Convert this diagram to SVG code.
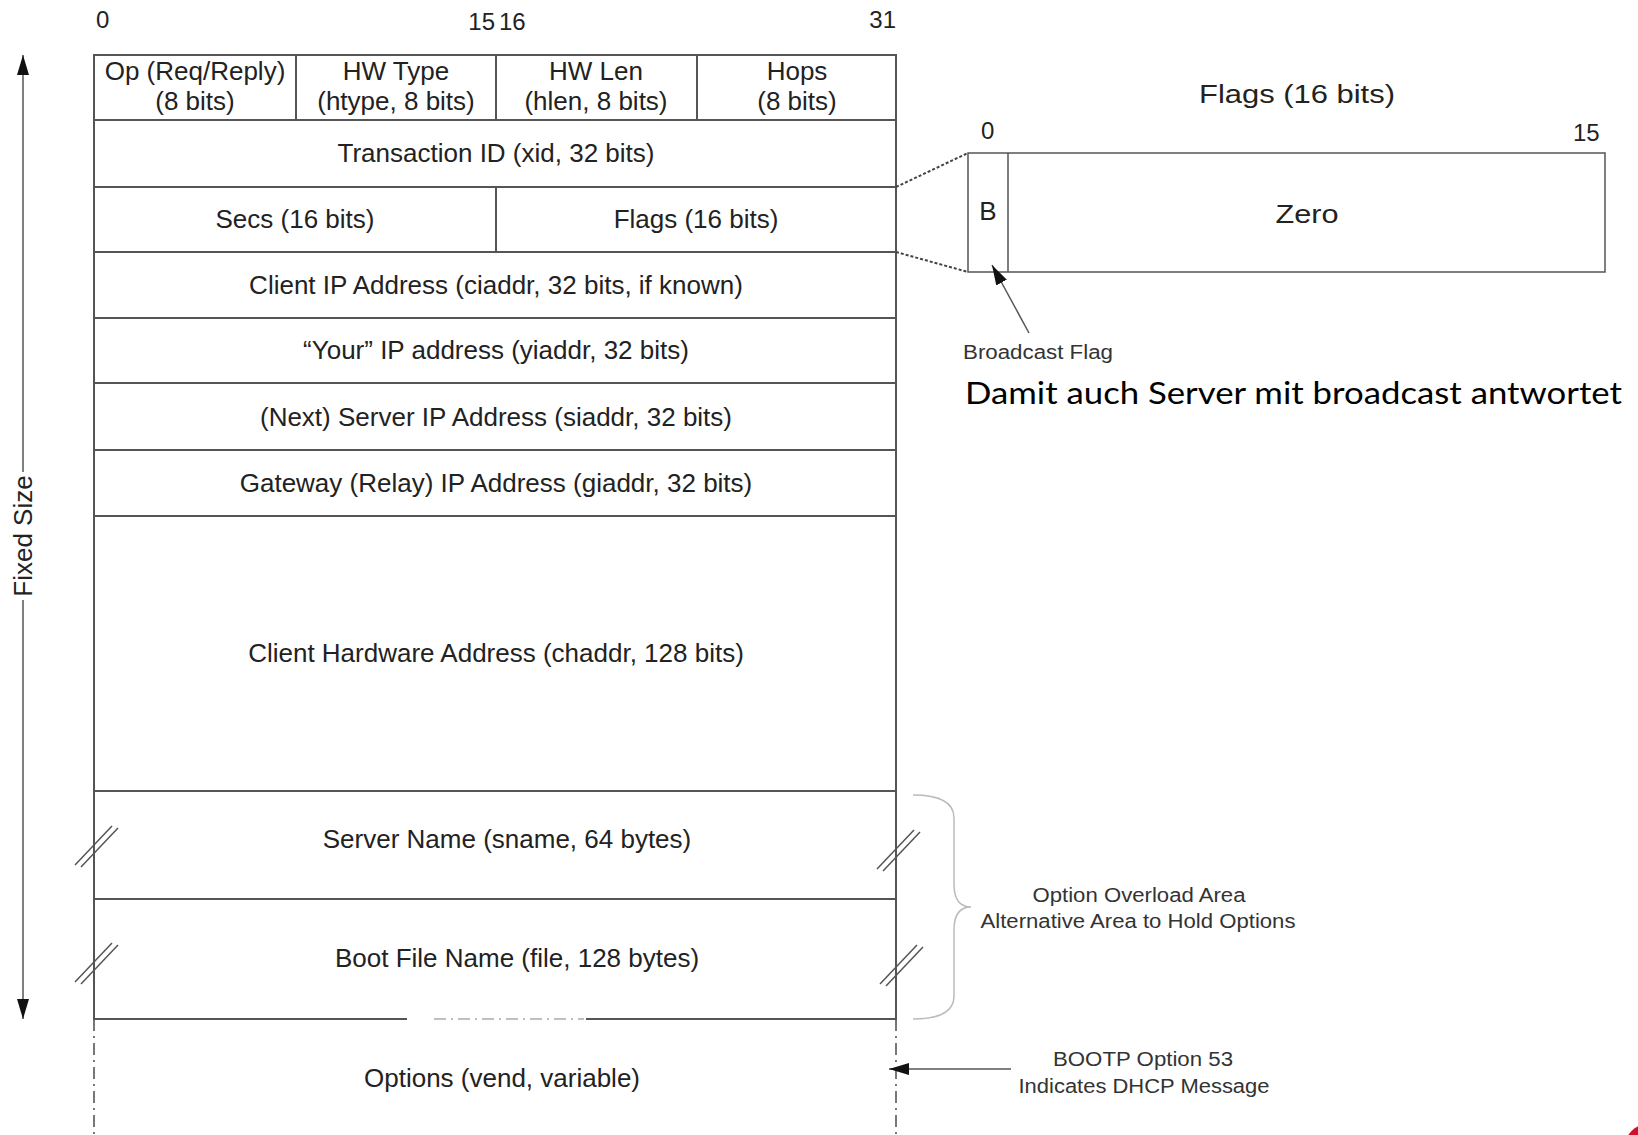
<svg xmlns="http://www.w3.org/2000/svg" width="1638" height="1135" viewBox="0 0 1638 1135">
<defs>
<style>
.ln{stroke:#555;stroke-width:2;fill:none}
.thin{stroke:#555;stroke-width:1.5;fill:none}
.dd{stroke:#555;stroke-width:1.6;fill:none;stroke-dasharray:12 5 2 5}
.dot{stroke:#444;stroke-width:2;fill:none;stroke-dasharray:3 2}
.t{font-family:"Liberation Sans",Arial,sans-serif;font-size:26px;fill:#222;text-anchor:middle}
.s{font-family:"Liberation Sans",Arial,sans-serif;font-size:20px;fill:#333;text-anchor:middle}
.n{font-family:"Liberation Sans",Arial,sans-serif;font-size:24px;fill:#222}
</style>
<marker id="ah" viewBox="0 0 20 12" refX="20" refY="6" markerWidth="20" markerHeight="12" markerUnits="userSpaceOnUse" orient="auto">
<path d="M0,0 L20,6 L0,12 z" fill="#111"/>
</marker>
</defs>
<rect width="1638" height="1135" fill="#fff"/>

<g id="bit-labels">
<text class="n" x="96" y="28">0</text>
<text class="n" x="495" y="30" text-anchor="end">15</text>
<text class="n" x="499" y="30">16</text>
<text class="n" x="896" y="28" text-anchor="end">31</text>
</g>

<g id="fixed-size">
<line class="thin" x1="23" y1="472" x2="23" y2="55" marker-end="url(#ah)"/>
<line class="thin" x1="23" y1="600" x2="23" y2="1019" marker-end="url(#ah)"/>
<text class="t" transform="translate(23,536) rotate(-90)" x="0" y="9">Fixed Size</text>
</g>

<g id="row-op">
<rect class="ln" x="94" y="55" width="202" height="65"/>
<text class="t" x="195" y="80">Op (Req/Reply)</text>
<text class="t" x="195" y="110">(8 bits)</text>
</g>
<g id="row-htype">
<rect class="ln" x="296" y="55" width="200" height="65"/>
<text class="t" x="396" y="80">HW Type</text>
<text class="t" x="396" y="110">(htype, 8 bits)</text>
</g>
<g id="row-hlen">
<rect class="ln" x="496" y="55" width="201" height="65"/>
<text class="t" x="596" y="80">HW Len</text>
<text class="t" x="596" y="110">(hlen, 8 bits)</text>
</g>
<g id="row-hops">
<rect class="ln" x="697" y="55" width="199" height="65"/>
<text class="t" x="797" y="80">Hops</text>
<text class="t" x="797" y="110">(8 bits)</text>
</g>
<g id="row-xid">
<rect class="ln" x="94" y="120" width="802" height="67"/>
<text class="t" x="496" y="162">Transaction ID (xid, 32 bits)</text>
</g>
<g id="row-secs">
<rect class="ln" x="94" y="187" width="402" height="65"/>
<text class="t" x="295" y="228">Secs (16 bits)</text>
</g>
<g id="row-flags">
<rect class="ln" x="496" y="187" width="400" height="65"/>
<text class="t" x="696" y="228">Flags (16 bits)</text>
</g>
<g id="row-ciaddr">
<rect class="ln" x="94" y="252" width="802" height="66"/>
<text class="t" x="496" y="294">Client IP Address (ciaddr, 32 bits, if known)</text>
</g>
<g id="row-yiaddr">
<rect class="ln" x="94" y="318" width="802" height="65"/>
<text class="t" x="496" y="359">“Your” IP address (yiaddr, 32 bits)</text>
</g>
<g id="row-siaddr">
<rect class="ln" x="94" y="383" width="802" height="67"/>
<text class="t" x="496" y="426">(Next) Server IP Address (siaddr, 32 bits)</text>
</g>
<g id="row-giaddr">
<rect class="ln" x="94" y="450" width="802" height="66"/>
<text class="t" x="496" y="492">Gateway (Relay) IP Address (giaddr, 32 bits)</text>
</g>
<g id="row-chaddr">
<rect class="ln" x="94" y="516" width="802" height="275"/>
<text class="t" x="496" y="662">Client Hardware Address (chaddr, 128 bits)</text>
</g>
<g id="row-sname">
<rect class="ln" x="94" y="791" width="802" height="108"/>
<text class="t" x="507" y="848">Server Name (sname, 64 bytes)</text>
<line class="thin" x1="75" y1="865" x2="112" y2="826"/>
<line class="thin" x1="81" y1="867" x2="118" y2="828"/>
<line class="thin" x1="877" y1="869" x2="914" y2="830"/>
<line class="thin" x1="883" y1="871" x2="920" y2="832"/>
</g>
<g id="row-file">
<path class="ln" d="M94,899 H896 V1019 H586 M407,1019 H94 V899"/>
<line x1="434" y1="1019" x2="584" y2="1019" stroke="#aaa" stroke-width="1.6" stroke-dasharray="12 5 2 5"/>
<text class="t" x="517" y="967">Boot File Name (file, 128 bytes)</text>
<line class="thin" x1="75" y1="982" x2="112" y2="943"/>
<line class="thin" x1="81" y1="984" x2="118" y2="945"/>
<line class="thin" x1="880" y1="984" x2="917" y2="945"/>
<line class="thin" x1="886" y1="986" x2="923" y2="947"/>
</g>
<g id="row-options">
<line class="dd" x1="94" y1="1019" x2="94" y2="1135"/>
<line class="dd" x1="896" y1="1019" x2="896" y2="1135"/>
<text class="t" x="502" y="1087">Options (vend, variable)</text>
</g>

<g id="flags-detail">
<text class="t" x="1297" y="103" font-size="30" textLength="196" lengthAdjust="spacingAndGlyphs">Flags (16 bits)</text>
<text class="n" x="981" y="139">0</text>
<text class="n" x="1573" y="141">15</text>
<rect class="thin" x="968" y="153" width="637" height="119"/>
<line class="thin" x1="1008" y1="153" x2="1008" y2="272"/>
<text class="t" x="988" y="220" font-size="23">B</text>
<text class="t" x="1307" y="223" font-size="31" textLength="63" lengthAdjust="spacingAndGlyphs">Zero</text>
</g>

<g id="broadcast-note">
<text class="s" x="1038" y="359" textLength="150" lengthAdjust="spacingAndGlyphs">Broadcast Flag</text>
<text x="965" y="404" font-family="Lato,'Open Sans',sans-serif" font-size="30" fill="#000" textLength="657" lengthAdjust="spacingAndGlyphs">Damit auch Server mit broadcast antwortet</text>
</g>

<g id="overload-note">
<path d="M913,795 Q954,795 954,818 V884 Q954,907 971,907 Q954,907 954,930 V996 Q954,1019 913,1019" fill="none" stroke="#bbb" stroke-width="1.5"/>
<text class="s" x="1139" y="902" textLength="213" lengthAdjust="spacingAndGlyphs">Option Overload Area</text>
<text class="s" x="1138" y="928" textLength="315" lengthAdjust="spacingAndGlyphs">Alternative Area to Hold Options</text>
</g>

<g id="bootp-note">
<text class="s" x="1143" y="1066" textLength="180" lengthAdjust="spacingAndGlyphs">BOOTP Option 53</text>
<text class="s" x="1144" y="1093" textLength="251" lengthAdjust="spacingAndGlyphs">Indicates DHCP Message</text>
</g>

<g id="connectors">
<line class="dot" x1="896" y1="187" x2="968" y2="153"/>
<line class="dot" x1="896" y1="252" x2="968" y2="272"/>
<line class="thin" x1="1029" y1="333" x2="992" y2="265" marker-end="url(#ah)"/>
<line class="thin" x1="1011" y1="1069" x2="889" y2="1069" marker-end="url(#ah)"/>
</g>

<circle cx="1648" cy="1147" r="23" fill="#d0102a"/>
</svg>
